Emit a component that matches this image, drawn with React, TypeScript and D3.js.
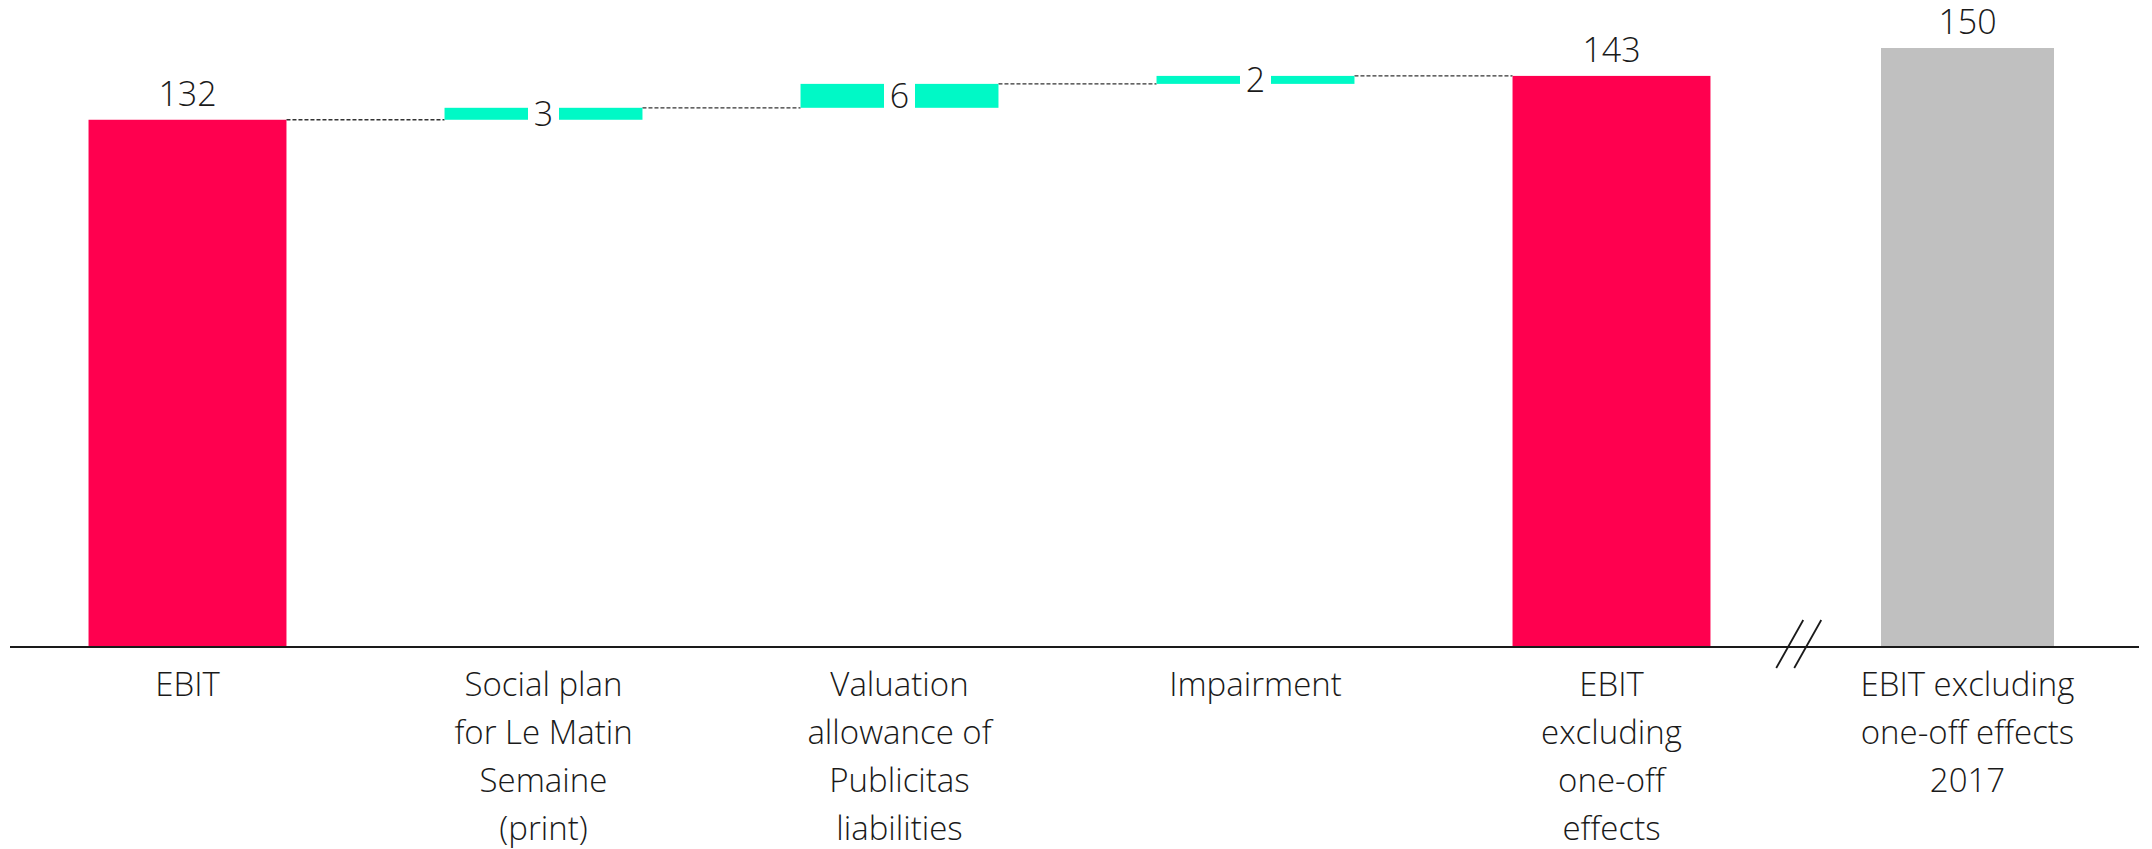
import React from "react";
import * as d3 from "d3";

// EBIT bridge: reported EBIT, one-off effects, EBIT excluding one-off effects, prior year
const categoryLines: string[][] = [
  ["EBIT"],
  ["Social plan", "for Le Matin", "Semaine", "(print)"],
  ["Valuation", "allowance of", "Publicitas", "liabilities"],
  ["Impairment"],
  ["EBIT", "excluding", "one-off", "effects"],
  ["EBIT excluding", "one-off effects", "2017"],
];
const categories = categoryLines.map((l) => l.join(" "));
const values = [132, 3, 6, 2, 143, 150];
const kinds = ["total", "delta", "delta", "delta", "total", "prior"];

const W = 2152;
const H = 849;
const FONT = "'Open Sans', 'Noto Sans', sans-serif";
const RED = "#FF004F";
const TEAL = "#00F9C6";
const GREY = "#C0C0C0";
const INK = "#1a1a1a";

export default function App() {
  const x = d3.scaleBand<string>().domain(categories).range([9.5, 2145.5]).padding(0);
  const y = d3.scaleLinear().domain([0, 150]).range([646, 48]);
  const step = x.step();

  // stack the deltas on the running total
  let running = 0;
  const bars = values.map((v, i) => {
    const kind = kinds[i];
    let lo = 0;
    let hi = v;
    if (kind === "delta") {
      lo = running;
      hi = running + v;
      running = hi;
    } else if (kind === "total") {
      running = v;
    }
    const cx = (x(categories[i]) as number) + step / 2;
    const bw = kind === "prior" ? step * 0.486 : step * 0.556;
    return { i, v, kind, lo, hi, cx, bw };
  });

  const connectors = bars.slice(0, 4).map((b, k) => {
    const next = bars[k + 1];
    return { x1: b.cx + b.bw / 2, x2: next.cx - next.bw / 2, yv: y(b.hi) };
  });

  const b5 = bars[4];
  const b6 = bars[5];
  const breakX = ((b5.cx + b5.bw / 2) + (b6.cx - b6.bw / 2)) / 2 + 3;
  const axisY = y(0);

  return (
    <div style={{ position: "absolute", left: 0, top: 0 }}>
      <svg width={W} height={H} style={{ display: "block", background: "#fff" }} fontFamily={FONT}>
        {connectors.map((c, k) => (
          <line key={k} x1={c.x1} x2={c.x2} y1={c.yv} y2={c.yv} stroke="#333" strokeWidth={1.3} strokeDasharray="4,2" />
        ))}
        {bars.map((b) => {
          const fill = b.kind === "total" ? RED : b.kind === "prior" ? GREY : TEAL;
          const top = y(b.hi);
          const bottom = y(b.lo);
          return (
            <g key={b.i}>
              <rect x={b.cx - b.bw / 2} y={top} width={b.bw} height={bottom - top} fill={fill} />
              {b.kind === "delta" ? (
                <g>
                  <rect x={b.cx - 15.5} y={top - 1} width={31} height={bottom - top + 2} fill="#fff" />
                  <text x={b.cx} y={(top + bottom) / 2 + 12} textAnchor="middle" fontSize={34} fontWeight={300} fill={INK}>
                    {b.v}
                  </text>
                </g>
              ) : (
                <text x={b.cx} y={top - 14} textAnchor="middle" fontSize={34} fontWeight={300} fill={INK}>
                  {b.v}
                </text>
              )}
            </g>
          );
        })}
        <line x1={10} x2={2139} y1={axisY + 1} y2={axisY + 1} stroke={INK} strokeWidth={2} />
        {[-9, 9].map((d, k) => (
          <line key={k} x1={breakX + d - 13.5} y1={axisY + 22} x2={breakX + d + 13.5} y2={axisY - 26} stroke={INK} strokeWidth={1.8} />
        ))}
        {bars.map((b) => (
          <text key={b.i} textAnchor="middle" fontSize={33} fontWeight={300} fill={INK}>
            {categoryLines[b.i].map((line, j) => (
              <tspan key={j} x={b.cx} y={696 + j * 48} >
                {line}
              </tspan>
            ))}
          </text>
        ))}
      </svg>
    </div>
  );
}
